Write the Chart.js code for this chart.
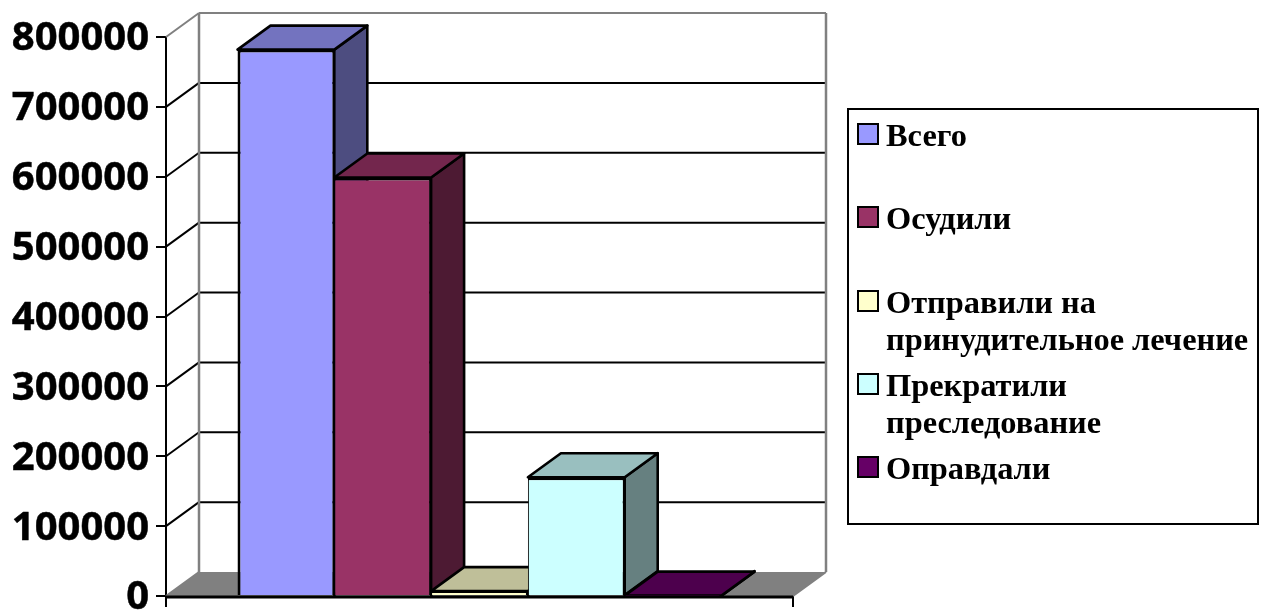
<!DOCTYPE html>
<html lang="ru">
<head>
<meta charset="utf-8">
<script src="https://cdn.jsdelivr.net/npm/chart.js@4"></script>
<style>
html,body{margin:0;padding:0;background:#fff;overflow:hidden}
#wrap{position:relative;width:1269px;height:613px}
canvas{position:absolute;left:0;top:0}
#legend{position:absolute;left:847px;top:108px;width:408px;height:413px;border:2px solid #000;box-sizing:content-box;font:bold 32.4px/36.5px "Liberation Serif",serif;color:#000}
#legend div.item{position:absolute;left:37px;white-space:pre}
#legend span{position:absolute;left:-29px;top:6px;width:18px;height:18px;border:2px solid #000}
</style>
</head>
<body>
<div id="wrap"><canvas id="c" width="1269" height="613"></canvas><div id="legend"></div></div>
<script>
const categories = [''];
const seriesNames = ['Всего', 'Осудили', 'Отправили на принудительное лечение', 'Прекратили преследование', 'Оправдали'];
const seriesValues = [782000, 599000, 7000, 170000, 500];
const seriesColors = ['#9999FF', '#993366', '#FFFFCC', '#CCFFFF', '#660066'];
const legendLines = [['Всего'], ['Осудили'], ['Отправили на', 'принудительное лечение'], ['Прекратили', 'преследование'], ['Оправдали']];
const legendTops = [7, 90, 174, 257, 340];

const DX = 33, DY = 24;

function shade(hex, f) {
  const n = parseInt(hex.slice(1), 16);
  return `rgb(${Math.round((n >> 16 & 255) * f)},${Math.round((n >> 8 & 255) * f)},${Math.round((n & 255) * f)})`;
}
function poly(ctx, pts, fill, stroke, lw) {
  ctx.beginPath();
  pts.forEach((p, i) => i ? ctx.lineTo(p[0], p[1]) : ctx.moveTo(p[0], p[1]));
  ctx.closePath();
  if (fill) { ctx.fillStyle = fill; ctx.fill(); }
  if (stroke) { ctx.strokeStyle = stroke; ctx.lineWidth = lw; ctx.lineJoin = 'round'; ctx.stroke(); }
}
function line(ctx, x1, y1, x2, y2, color, lw) {
  ctx.beginPath(); ctx.moveTo(x1, y1); ctx.lineTo(x2, y2);
  ctx.strokeStyle = color; ctx.lineWidth = lw; ctx.stroke();
}

const wallPlugin = {
  id: 'wall',
  beforeDatasetsDraw(chart) {
    const { ctx, chartArea: a, scales: { y } } = chart;
    const bot = y.getPixelForValue(0);
    ctx.save();
    poly(ctx, [[a.left, bot], [a.left + DX, bot - DY], [a.right + DX, bot - DY], [a.right, bot]], '#808080');
    y.ticks.forEach(t => {
      const py = y.getPixelForValue(t.value);
      const isTop = t.value === y.max, isZero = t.value === 0;
      const c = isTop || isZero ? '#808080' : '#000';
      line(ctx, a.left, py, a.left + DX, py - DY, c, 2);
      if (!isZero) line(ctx, a.left + DX, py - DY, a.right + DX, py - DY, c, 2);
    });
    line(ctx, a.left + DX, y.getPixelForValue(y.max) - DY, a.left + DX, bot - DY, '#808080', 2.5);
    line(ctx, a.right + DX, y.getPixelForValue(y.max) - DY, a.right + DX, bot - DY, '#808080', 2.5);
    line(ctx, a.right, bot, a.right + DX, bot - DY, '#808080', 2);
    // side and top faces, left to right; the library then paints the front faces over them
    seriesValues.forEach((v, i) => {
      const el = chart.getDatasetMeta(i).data[0];
      const col = seriesColors[i];
      const l = el.x - el.width / 2, r = el.x + el.width / 2, t = el.y, b = el.base;
      poly(ctx, [[r, t], [r + DX, t - DY], [r + DX, b - DY], [r, b]], shade(col, 0.5), '#000', 2.6);
      poly(ctx, [[l, t], [l + DX, t - DY], [r + DX, t - DY], [r, t]], shade(col, 0.75), '#000', 2.6);
    });
    ctx.restore();
  },
  afterDatasetsDraw(chart) {
    const { ctx, chartArea: a, scales: { y } } = chart;
    const bot = y.getPixelForValue(0);
    ctx.save();
    line(ctx, a.left, bot + 1, a.right, bot + 1, '#000', 3);
    ctx.restore();
  }
};

new Chart(document.getElementById('c'), {
  type: 'bar',
  data: {
    labels: categories,
    datasets: seriesNames.map((name, i) => ({
      label: name,
      data: [seriesValues[i]],
      backgroundColor: seriesColors[i],
      borderColor: '#000',
      borderWidth: { top: 3, right: 2, bottom: 0, left: i ? 1 : 3 }
    }))
  },
  options: {
    responsive: false,
    animation: false,
    devicePixelRatio: 1,
    layout: { padding: { left: 0, right: 476, top: 37, bottom: 0 } },
    plugins: { legend: { display: false }, tooltip: { enabled: false }, title: { display: false } },
    datasets: { bar: { categoryPercentage: 484 / 627, barPercentage: 1 } },
    scales: {
      x: {
        offset: true,
        afterFit(s) { s.height = 17; s.paddingLeft = 0; s.paddingRight = 0; },
        ticks: { display: false },
        border: { display: false },
        grid: { offset: true, drawOnChartArea: false, drawTicks: true, tickLength: 11, color: '#000', lineWidth: 2 }
      },
      y: {
        min: 0, max: 800000,
        afterFit(s) { s.width = 166; s.paddingTop = 0; s.paddingBottom = 0; },
        ticks: {
          stepSize: 100000, autoSkip: false, padding: 7, color: '#000', labelOffset: 2,
          textStrokeColor: '#000', textStrokeWidth: 0.5,
          font: { family: 'Open Sans', weight: 'bold', size: 40 },
          callback: v => String(v)
        },
        border: { display: true, color: '#000', width: 2 },
        grid: { drawOnChartArea: false, tickLength: 10, color: '#000', lineWidth: 2 }
      }
    }
  },
  plugins: [wallPlugin]
});

const legendEl = document.getElementById('legend');
legendLines.forEach((lines, i) => {
  const d = document.createElement('div');
  d.className = 'item';
  d.style.top = legendTops[i] + 'px';
  d.textContent = lines.join('\n');
  const s = document.createElement('span');
  s.style.background = seriesColors[i];
  d.appendChild(s);
  legendEl.appendChild(d);
});
</script>
</body>
</html>
